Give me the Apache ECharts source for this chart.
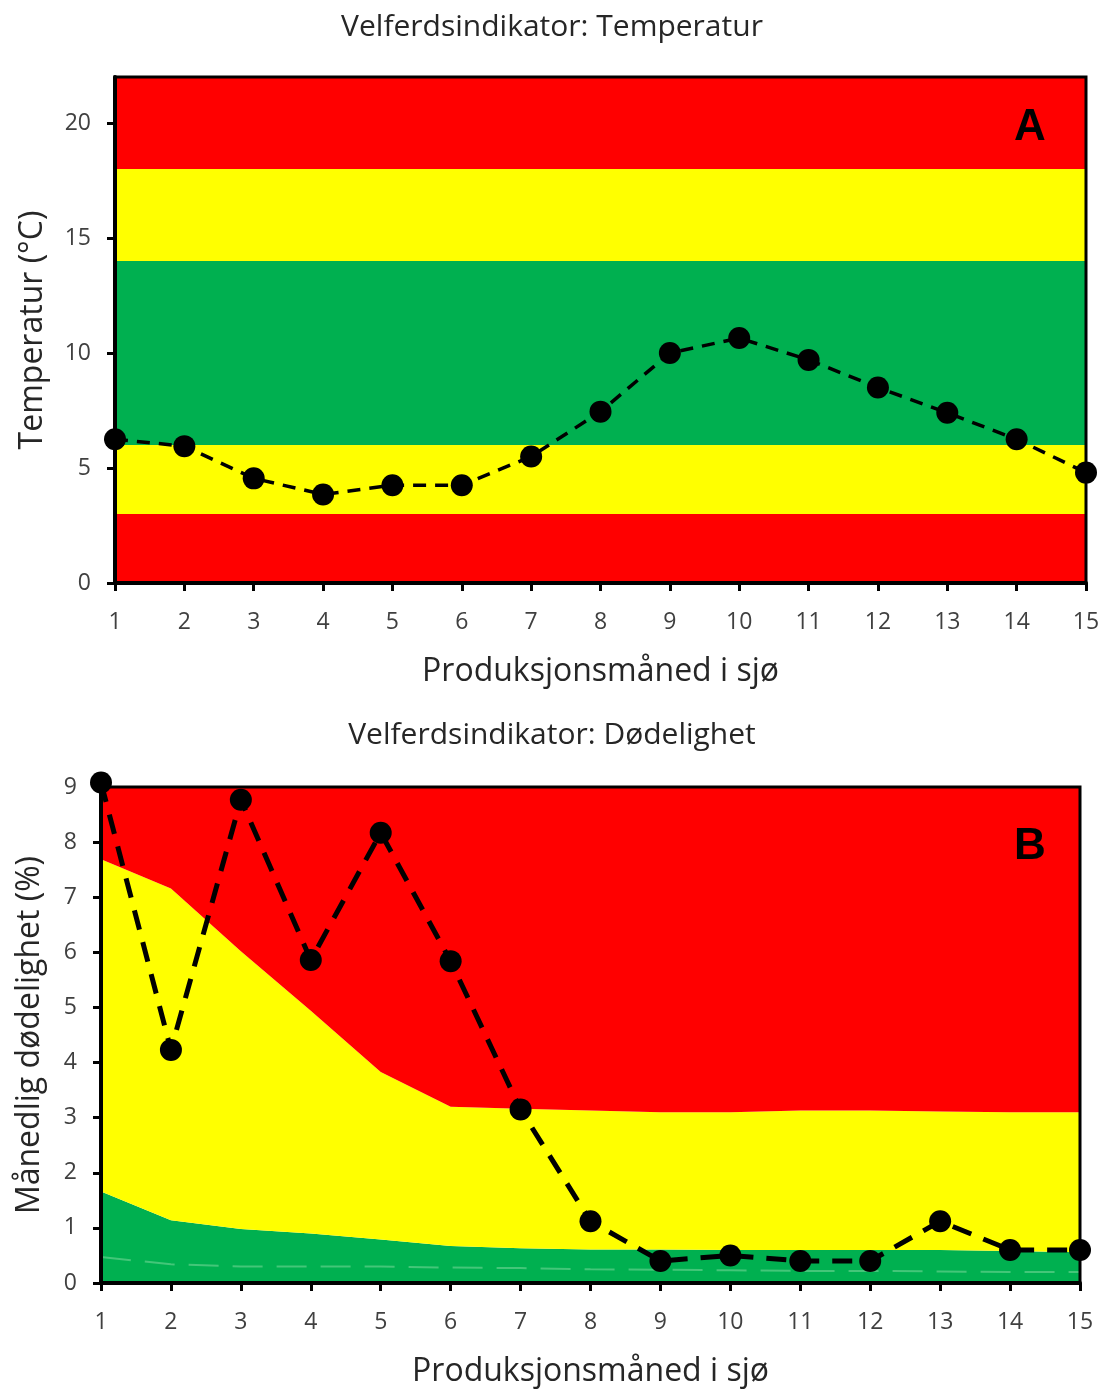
<!DOCTYPE html>
<html>
<head>
<meta charset="utf-8">
<script src="https://cdn.jsdelivr.net/npm/echarts@6/dist/echarts.min.js"></script>
<style>
  html, body { margin: 0; padding: 0; background: #fff; }
  #chart { width: 1104px; height: 1389px; }
</style>
</head>
<body>
<div id="chart"></div>
<script>
// måneder i sjø
var months = ['1','2','3','4','5','6','7','8','9','10','11','12','13','14','15'];

// A: temperatur (°C)
var temperature = [6.25, 5.95, 4.55, 3.85, 4.25, 4.25, 5.5, 7.45, 10.0, 10.65, 9.7, 8.5, 7.4, 6.25, 4.8];
// grenser for fargefelt, nedenfra og opp
var tempBands = [0, 3, 6, 14, 18, 22];
var tempBandColors = ['#FF0000', '#FFFF00', '#00B050', '#FFFF00', '#FF0000'];

// B: dødelighet (%)
var mortality = [9.08, 4.23, 8.77, 5.86, 8.17, 5.84, 3.15, 1.12, 0.4, 0.5, 0.4, 0.4, 1.12, 0.6, 0.6];
var greenLimit = [1.66, 1.14, 0.98, 0.9, 0.79, 0.67, 0.63, 0.61, 0.61, 0.6, 0.6, 0.6, 0.6, 0.58, 0.56];
var yellowLimit = [7.69, 7.16, 6.02, 4.94, 3.83, 3.2, 3.16, 3.13, 3.1, 3.1, 3.13, 3.13, 3.11, 3.1, 3.1];
var faintLine = [0.47, 0.34, 0.3, 0.3, 0.3, 0.28, 0.27, 0.25, 0.24, 0.23, 0.22, 0.22, 0.21, 0.2, 0.2];
var mortMax = 9;

var font = '"Open Sans", "Noto Sans", sans-serif';
var labelColor = '#404040';

var bandAreas = [];
for (var i = 0; i < tempBandColors.length; i++) {
  bandAreas.push([
    { yAxis: tempBands[i], itemStyle: { color: tempBandColors[i] } },
    { yAxis: tempBands[i + 1] }
  ]);
}

var yellowPart = yellowLimit.map(function (v, i) { return +(v - greenLimit[i]).toFixed(3); });
var redPart = yellowLimit.map(function (v) { return +(mortMax - v).toFixed(3); });

function xAxisCfg(gridIndex) {
  return {
    type: 'category',
    gridIndex: gridIndex,
    data: months,
    boundaryGap: false,
    name: 'Produksjonsmåned i sjø',
    nameLocation: 'middle',
    nameGap: 73,
    nameTextStyle: { fontSize: 32, color: '#262626', fontFamily: font },
    axisLine: { lineStyle: { color: '#000', width: 4 } },
    axisTick: { show: true, alignWithLabel: true, length: 8, lineStyle: { color: '#000', width: 3 } },
    axisLabel: { fontSize: 23, color: labelColor, margin: 28, fontFamily: font },
    splitLine: { show: false },
    z: 10
  };
}

function yAxisCfg(gridIndex, name, max, interval, gap) {
  return {
    type: 'value',
    gridIndex: gridIndex,
    min: 0,
    max: max,
    interval: interval,
    name: name,
    nameLocation: 'middle',
    nameGap: gap,
    nameTextStyle: { fontSize: 32, color: '#262626', fontFamily: font },
    axisLine: { show: true, lineStyle: { color: '#000', width: 4 } },
    axisTick: { show: true, length: 8, lineStyle: { color: '#000', width: 3 } },
    axisLabel: { fontSize: 23, color: labelColor, margin: 24, fontFamily: font, showMaxLabel: max % interval === 0 },
    splitLine: { show: false },
    z: 10
  };
}

var myChart = echarts.init(document.getElementById('chart'), null, { renderer: 'canvas' });

var option = {
  animation: false,
  backgroundColor: '#fff',
  title: [
    { text: 'Velferdsindikator: Temperatur', left: 'center', top: 7,
      textStyle: { fontSize: 30, fontWeight: 'normal', color: '#262626', fontFamily: font } },
    { text: 'Velferdsindikator: Dødelighet', left: 'center', top: 715,
      textStyle: { fontSize: 30, fontWeight: 'normal', color: '#262626', fontFamily: font } }
  ],
  grid: [
    { left: 115, top: 77, width: 971, height: 506, show: true, z: 10, borderColor: '#000', borderWidth: 3, backgroundColor: 'transparent' },
    { left: 101, top: 787, width: 979, height: 498, show: true, z: 10, borderColor: '#000', borderWidth: 3, backgroundColor: 'transparent' }
  ],
  xAxis: [xAxisCfg(0), xAxisCfg(1)],
  yAxis: [
    yAxisCfg(0, 'Temperatur (°C)', 22, 5, 66),
    yAxisCfg(1, 'Månedlig dødelighet (%)', 9, 1, 55)
  ],
  graphic: [
    { type: 'text', left: 1014, top: 106, z: 100, style: { text: 'A', font: 'bold 44px "Liberation Sans", Arial, sans-serif', fill: '#000' } },
    { type: 'text', left: 1014, top: 825, z: 100, style: { text: 'B', font: 'bold 44px "Liberation Sans", Arial, sans-serif', fill: '#000' } }
  ],
  series: [
    {
      name: 'Temperatur',
      type: 'line',
      xAxisIndex: 0, yAxisIndex: 0,
      data: temperature,
      symbol: 'circle',
      symbolSize: 22,
      clip: false,
      itemStyle: { color: '#000' },
      lineStyle: { color: '#000', width: 3.5, type: [13, 9] },
      markArea: { silent: true, data: bandAreas },
      z: 5
    },
    {
      name: 'Grønn',
      type: 'line',
      xAxisIndex: 1, yAxisIndex: 1,
      stack: 'felt',
      data: greenLimit,
      symbol: 'none',
      lineStyle: { width: 0 },
      areaStyle: { color: '#00B050', opacity: 1 },
      z: 1
    },
    {
      name: 'Gul',
      type: 'line',
      xAxisIndex: 1, yAxisIndex: 1,
      stack: 'felt',
      data: yellowPart,
      symbol: 'none',
      lineStyle: { width: 0 },
      areaStyle: { color: '#FFFF00', opacity: 1 },
      z: 1
    },
    {
      name: 'Rød',
      type: 'line',
      xAxisIndex: 1, yAxisIndex: 1,
      stack: 'felt',
      data: redPart,
      symbol: 'none',
      lineStyle: { width: 0 },
      areaStyle: { color: '#FF0000', opacity: 1 },
      z: 1
    },
    {
      name: 'Svak linje',
      type: 'line',
      xAxisIndex: 1, yAxisIndex: 1,
      data: faintLine,
      symbol: 'none',
      lineStyle: { color: '#5fd08a', width: 2, type: [30, 14], opacity: 0.7 },
      z: 2
    },
    {
      name: 'Dødelighet',
      type: 'line',
      xAxisIndex: 1, yAxisIndex: 1,
      data: mortality,
      symbol: 'circle',
      symbolSize: 22,
      clip: false,
      itemStyle: { color: '#000' },
      lineStyle: { color: '#000', width: 5, type: [20, 13] },
      z: 5
    }
  ]
};

myChart.setOption(option);
</script>
</body>
</html>
